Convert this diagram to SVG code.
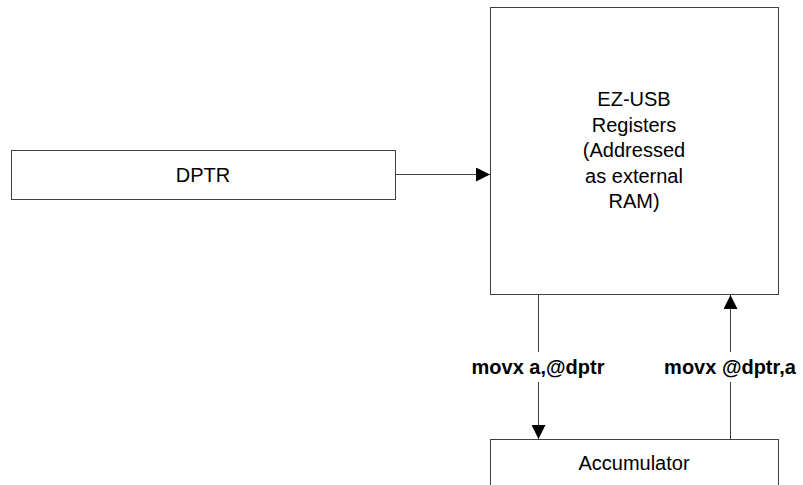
<svg xmlns="http://www.w3.org/2000/svg" width="803" height="485" viewBox="0 0 803 485">
<defs>
<style>
.box{fill:#fff;stroke:#404040;stroke-width:1}
.t{font-family:"Liberation Sans",Arial,sans-serif;font-size:20px;fill:#000;text-anchor:middle}
.lb{font-family:"Liberation Sans",Arial,sans-serif;font-size:20px;font-weight:bold;fill:#000;text-anchor:middle}
.ln{stroke:#404040;stroke-width:1;fill:none}
</style>
<marker id="ah" viewBox="0 0 14 14" refX="14" refY="7" markerWidth="14" markerHeight="14" markerUnits="userSpaceOnUse" orient="auto">
<path d="M0,0 L14,7 L0,14 Z" fill="#000"/>
</marker>
</defs>
<rect width="803" height="485" fill="#fff"/>
<g id="dptr">
<rect class="box" x="11.5" y="150.5" width="384" height="49"/>
<text class="t" x="203" y="182">DPTR</text>
</g>
<g id="registers">
<rect class="box" x="490.5" y="7.5" width="288" height="287"/>
<text class="t" x="634" y="106">EZ-USB</text>
<text class="t" x="634" y="132">Registers</text>
<text class="t" x="634" y="157">(Addressed</text>
<text class="t" x="634" y="183">as external</text>
<text class="t" x="634" y="208">RAM)</text>
</g>
<g id="accumulator">
<rect class="box" x="490.5" y="439.5" width="288" height="60"/>
<text class="t" x="634" y="470">Accumulator</text>
</g>
<g id="connectors">
<line class="ln" x1="395.5" y1="174.5" x2="490" y2="174.5" marker-end="url(#ah)"/>
<line class="ln" x1="538.5" y1="295" x2="538.5" y2="352"/>
<line class="ln" x1="538.5" y1="382" x2="538.5" y2="439" marker-end="url(#ah)"/>
<line class="ln" x1="730.5" y1="439" x2="730.5" y2="382"/>
<line class="ln" x1="730.5" y1="352" x2="730.5" y2="295" marker-end="url(#ah)"/>
<text class="lb" x="538" y="374">movx a,@dptr</text>
<text class="lb" x="730" y="374">movx @dptr,a</text>
</g>
</svg>
